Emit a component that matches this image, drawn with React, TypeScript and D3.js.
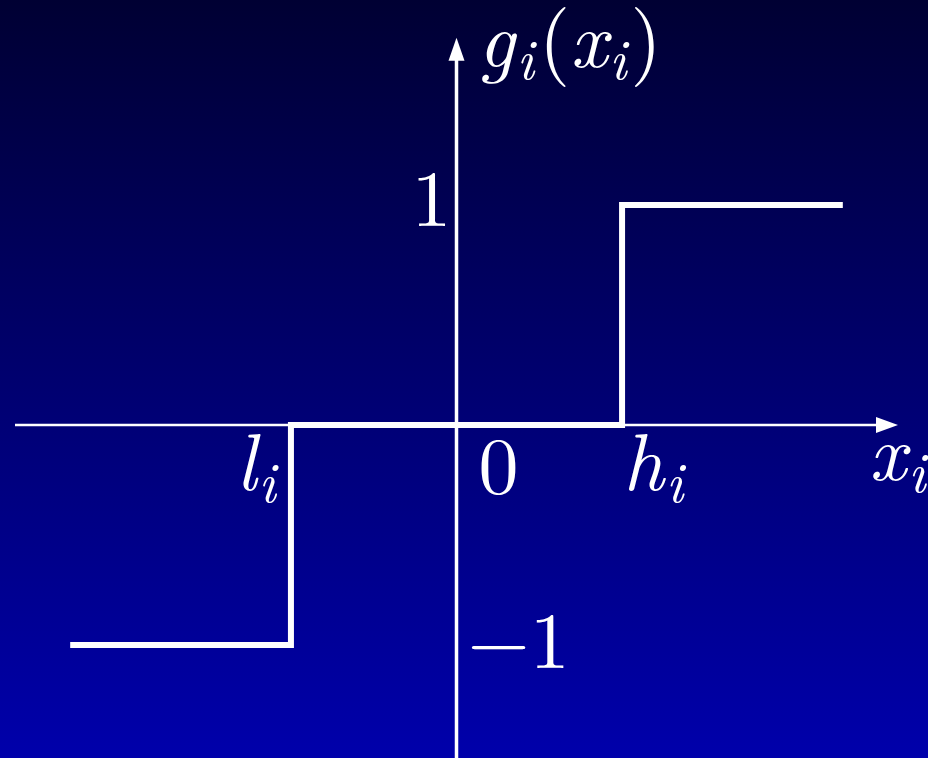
import React from 'react';
import * as d3 from 'd3';

const width = 928;
const height = 758;

// step function g_i(x_i): -1 below l_i, 0 between, 1 above h_i
const stepXs = [-1.75, -0.75, 0.75, 1.75];
const stepYs = [-1, 0, 1, 1];
const xAxisExtent = [-2, 2];
const yAxisExtent = [-1.6, 1.76];
const breakLabels = [
  { name: 'l', at: -0.75 },
  { name: 'h', at: 0.75 },
];
const yTicks = [
  { value: 1, label: '1' },
  { value: -1, label: '\u22121' },
];

const x = d3.scaleLinear().domain([-2, 2]).range([15, 898]);
const y = d3.scaleLinear().domain([-1, 1]).range([645, 205]);

const mathFont = '"Latin Modern Roman", "Liberation Serif", serif';
const big = 80;
const sub = 56;
const font = { fontFamily: mathFont };

function Var({ base, idx, ...props }: any) {
  return (
    <text fill="white" style={font} fontSize={big} {...props}>
      <tspan fontStyle="italic">{base}</tspan>
      <tspan fontStyle="italic" fontSize={sub} dy={12} dx={2}>{idx}</tspan>
    </text>
  );
}

export default function App() {
  const pts: [number, number][] = stepXs.map((v, i) => [v, stepYs[i]]);
  const stepLine = d3
    .line<[number, number]>()
    .x(d => x(d[0]))
    .y(d => y(d[1]))
    .curve(d3.curveStepAfter);

  const x0 = x(0);
  const y0 = y(0);
  const xl = x(xAxisExtent[0]);
  const xr = x(xAxisExtent[1]);
  const yt = y(yAxisExtent[1]);
  const yb = y(yAxisExtent[0]);

  return (
    <svg
      width={width}
      height={height}
      style={{ position: 'fixed', left: 0, top: 0, display: 'block' }}
    >
      <defs>
        <linearGradient id="bg" x1="0" y1="0" x2="0" y2="1">
          <stop offset="0%" stopColor="#000033" />
          <stop offset="100%" stopColor="#0000ab" />
        </linearGradient>
      </defs>
      <rect width={width} height={height} fill="url(#bg)" />

      {/* axes */}
      <line x1={xl} x2={xr - 18} y1={y0} y2={y0} stroke="white" strokeWidth={2.5} />
      <path d={`M${xr},${y0} L${xr - 22},${y0 - 8} L${xr - 22},${y0 + 8} Z`} fill="white" />
      <line x1={x0} x2={x0} y1={yb} y2={yt + 18} stroke="white" strokeWidth={3.5} />
      <path d={`M${x0},${yt} L${x0 - 8},${yt + 23} L${x0 + 8},${yt + 23} Z`} fill="white" />

      {/* step function */}
      <path
        d={stepLine(pts) || ''}
        fill="none"
        stroke="white"
        strokeWidth={6}
        strokeLinejoin="miter"
      />

      {/* tick labels */}
      {yTicks.map(t =>
        t.value > 0 ? (
          <text key={t.label} x={x0 - 45} y={y(t.value) + 21} fill="white"
            style={font} fontSize={big}>{t.label}</text>
        ) : (
          <text key={t.label} x={x0 + 11} y={y(t.value) + 23} fill="white"
            style={font} fontSize={big}>{t.label}</text>
        )
      )}
      <text x={x0 + 22} y={y0 + 68} fill="white" style={font} fontSize={big}>0</text>

      {breakLabels.map(b =>
        b.name === 'l' ? (
          <Var key={b.name} base="l" idx="i" x={x(b.at) - 55} y={y0 + 65} />
        ) : (
          <Var key={b.name} base="h" idx="i" x={x(b.at) + 1} y={y0 + 65} />
        )
      )}

      {/* axis titles */}
      <Var base="x" idx="i" x={869} y={y0 + 55} />
      <text x={478} y={67} fill="white" style={font} fontSize={big}>
        <tspan fontStyle="italic">g</tspan>
        <tspan fontStyle="italic" fontSize={sub} dy={12} dx={2}>i</tspan>
        <tspan dy={-12} dx={5}>(</tspan>
        <tspan fontStyle="italic">x</tspan>
        <tspan fontStyle="italic" fontSize={sub} dy={12} dx={2}>i</tspan>
        <tspan dy={-12} dx={4}>)</tspan>
      </text>
    </svg>
  );
}
